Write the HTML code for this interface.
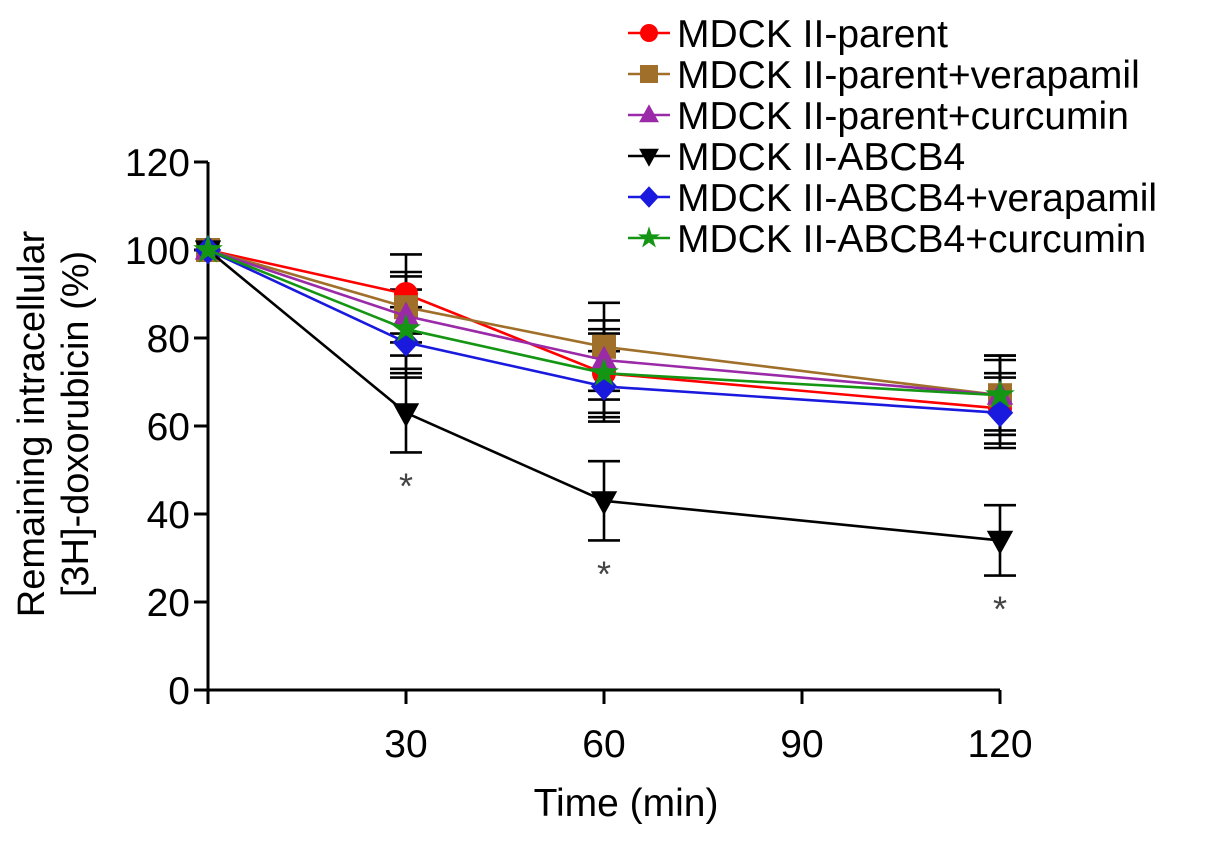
<!DOCTYPE html>
<html><head><meta charset="utf-8"><style>
body{margin:0;background:#fff;}
svg text{font-family:"Liberation Sans",Arial,sans-serif;}
</style></head><body>
<svg id="chart" width="1205" height="850" viewBox="0 0 1205 850">
<g id="axes"></g><g id="series"></g><g id="legend"></g>
<text x="44" y="424" font-size="38" text-anchor="middle" transform="rotate(-90 44 424)">Remaining intracellular</text>
<text x="88" y="424" font-size="38" text-anchor="middle" transform="rotate(-90 88 424)">[3H]-doxorubicin (%)</text>
<text x="626" y="816" font-size="39" text-anchor="middle">Time (min)</text>
</svg>
<script>
const times=[0,30,60,120];
const xTicks=[30,60,90,120];
const yTicks=[0,20,40,60,80,100,120];
const seriesNames=["MDCK II-parent","MDCK II-parent+verapamil","MDCK II-parent+curcumin","MDCK II-ABCB4","MDCK II-ABCB4+verapamil","MDCK II-ABCB4+curcumin"];
const parentVals=[100,90,72,64];
const parentVerVals=[100,87,78,67];
const parentCurVals=[100,85,75,67];
const abcb4Vals=[100,63,43,34];
const abcb4VerVals=[100,79,69,63];
const abcb4CurVals=[100,82,72,67];
const parentErr=[0,9,9,8];
const parentVerErr=[0,8,10,9];
const parentCurErr=[0,9,9,8];
const abcb4Err=[0,9,9,8];
const abcb4VerErr=[0,8,8,8];
const abcb4CurErr=[0,9,10,9];
const colors=["#ff0000","#a0702a","#9a2aa8","#000000","#1a1adf","#149614"];
const markers=["circle","square","triangle","down","diamond","star"];
const allVals=[parentVals,parentVerVals,parentCurVals,abcb4Vals,abcb4VerVals,abcb4CurVals];
const allErr=[parentErr,parentVerErr,parentCurErr,abcb4Err,abcb4VerErr,abcb4CurErr];
const sig=[false,true,true,true];
const NS="http://www.w3.org/2000/svg";
const X=t=>208+t*(792/120);
const Y=v=>690-v*4.4;
function mk(tag,attrs,parent){const e=document.createElementNS(NS,tag);for(const k in attrs)e.setAttribute(k,attrs[k]);parent.appendChild(e);return e;}
const axes=document.getElementById('axes');
let e=mk('line',{x1:208,y1:Y(0),x2:X(120),y2:Y(0),stroke:'#000','stroke-width':3},axes);


e=mk('line',{x1:208,y1:Y(0),x2:208,y2:Y(120),stroke:'#000','stroke-width':3},axes);


yTicks.forEach(v=>{mk('line',{x1:194,y1:Y(v),x2:208,y2:Y(v),stroke:'#000','stroke-width':3},axes);
const t=mk('text',{x:190,y:Y(v)+14,'font-size':39,'text-anchor':'end'},axes);t.textContent=v;

});
xTicks.forEach(v=>{mk('line',{x1:X(v),y1:Y(0),x2:X(v),y2:Y(0)+14,stroke:'#000','stroke-width':3},axes);
const t=mk('text',{x:X(v),y:Y(0)+67,'font-size':39,'text-anchor':'middle'},axes);t.textContent=v;

});
mk('line',{x1:208,y1:Y(0),x2:208,y2:Y(0)+14,stroke:'#000','stroke-width':3},axes);
function marker(g,type,x,y,c,s){
 if(type==='circle')return mk('circle',{cx:x,cy:y,r:s,fill:c},g);
 if(type==='square')return mk('rect',{x:x-s,y:y-s,width:2*s,height:2*s,fill:c},g);
 if(type==='triangle')return mk('polygon',{points:`${x},${y-s*1.2} ${x+s*1.1},${y+s*0.8} ${x-s*1.1},${y+s*0.8}`,fill:c},g);
 if(type==='down')return mk('polygon',{points:`${x},${y+s*1.2} ${x+s*1.1},${y-s*0.8} ${x-s*1.1},${y-s*0.8}`,fill:c},g);
 if(type==='diamond')return mk('polygon',{points:`${x},${y-s*1.2} ${x+s*1.1},${y} ${x},${y+s*1.2} ${x-s*1.1},${y}`,fill:c},g);
 let p=[];for(let i=0;i<10;i++){const r=i%2?s*0.5:s*1.3;const a=-Math.PI/2+i*Math.PI/5;p.push((x+r*Math.cos(a)).toFixed(1)+','+(y+r*Math.sin(a)).toFixed(1));}
 return mk('polygon',{points:p.join(' '),fill:c},g);
}
const sg=document.getElementById('series');
const eg=mk('g',{},sg);
allVals.forEach((vals,i)=>{
 const g=mk('g',{},sg);
 
 
 mk('polyline',{points:vals.map((v,j)=>X(times[j])+','+Y(v)).join(' '),fill:'none',stroke:colors[i],'stroke-width':2.6},g);
 vals.forEach((v,j)=>{const er=allErr[i][j];if(er>0){const x=X(times[j]);
  mk('line',{x1:x,y1:Y(v-er),x2:x,y2:Y(v+er),stroke:'#000','stroke-width':2.6},eg);
  mk('line',{x1:x-16,y1:Y(v-er),x2:x+16,y2:Y(v-er),stroke:'#000','stroke-width':2.6},eg);
  mk('line',{x1:x-16,y1:Y(v+er),x2:x+16,y2:Y(v+er),stroke:'#000','stroke-width':2.6},eg);}
  const m=marker(g,markers[i],X(times[j]),Y(v),colors[i],12);
  
  });
});
abcb4Vals.forEach((v,j)=>{if(sig[j]){const t=mk('text',{x:X(times[j]),y:Y(v-abcb4Err[j])+46,'font-size':36,'text-anchor':'middle',fill:'#444'},sg);t.textContent='*';

}});
const lg=document.getElementById('legend');
seriesNames.forEach((n,i)=>{const y=33+i*41;
 const g=mk('g',{},lg);
 
 
 mk('line',{x1:628,y1:y,x2:670,y2:y,stroke:colors[i],'stroke-width':2.6},g);
 marker(g,markers[i],649,y,colors[i],9);
 const t=mk('text',{x:677,y:y+14,'font-size':39},g);t.textContent=n;});
</script>
</body></html>
